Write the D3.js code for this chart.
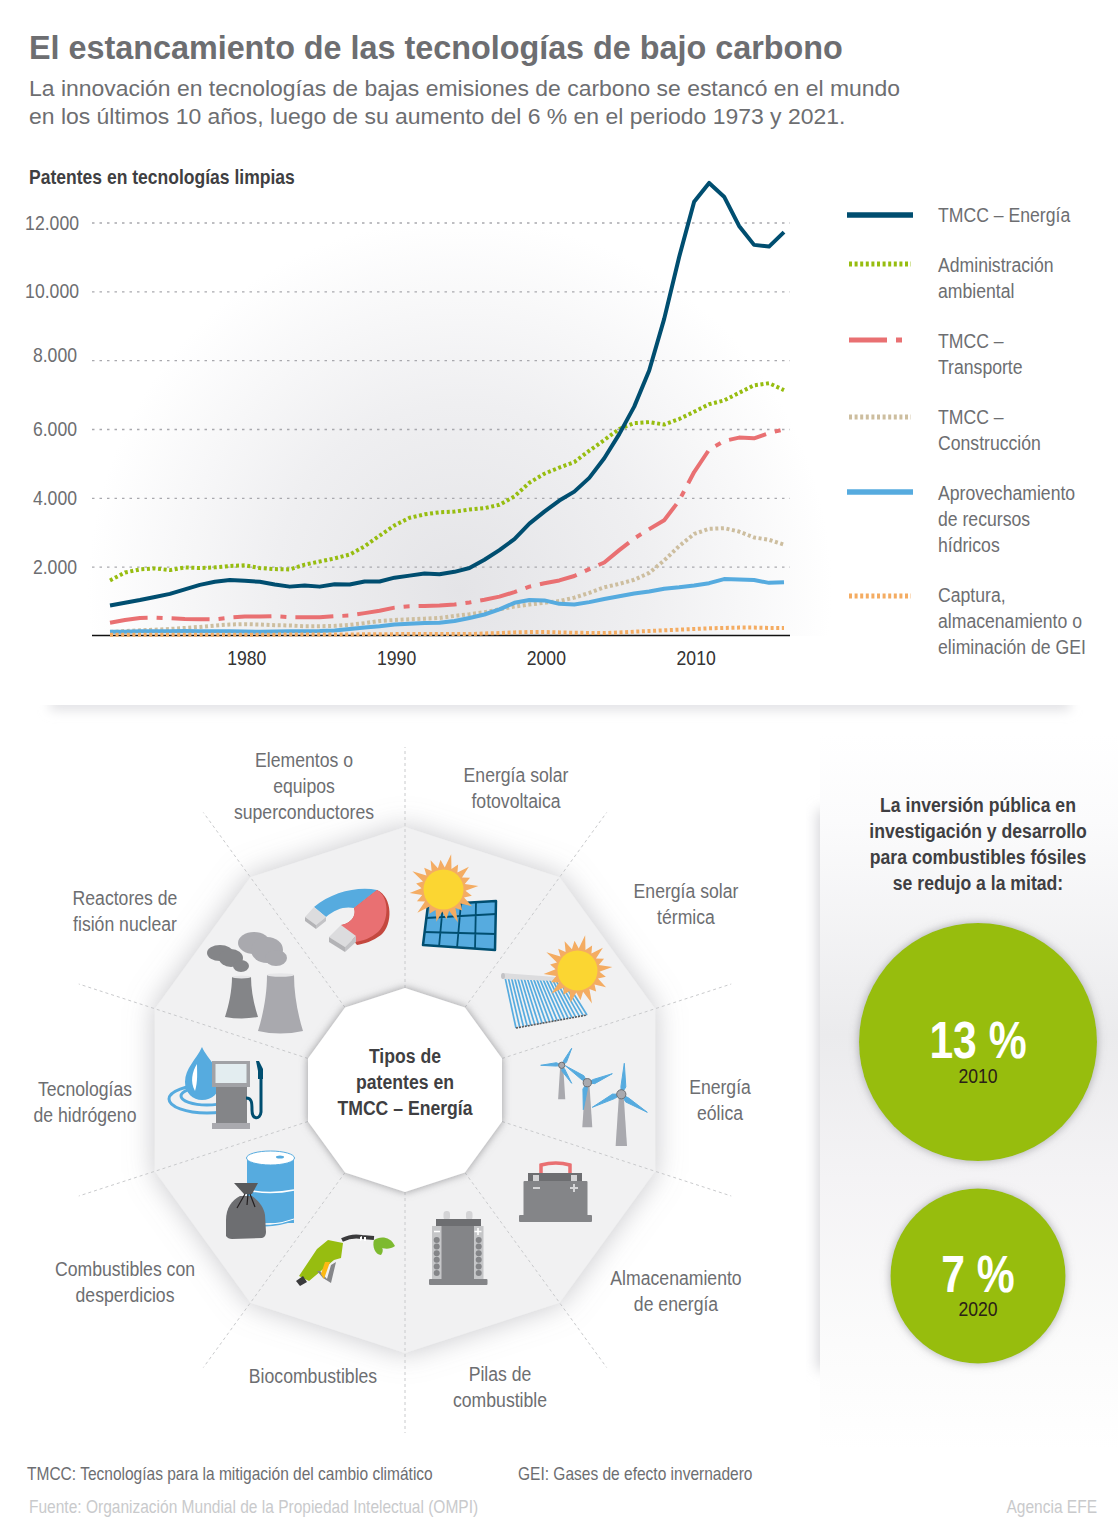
<!DOCTYPE html>
<html lang="es"><head><meta charset="utf-8">
<script src="https://cdn.jsdelivr.net/npm/d3@7/dist/d3.min.js"></script>
<style>html,body{margin:0;padding:0;background:#fff}svg{display:block}text{font-family:"Liberation Sans",Arial,sans-serif}</style>
</head><body><svg id="c" width="1118" height="1531" viewBox="0 0 1118 1531"></svg>
<script>
const years = d3.range(1971, 2017);
const energia = [870,950,1030,1120,1210,1340,1470,1560,1610,1590,1560,1480,1420,1450,1420,1490,1480,1570,1570,1680,1740,1800,1780,1850,1960,2200,2480,2800,3250,3600,3920,4180,4580,5150,5850,6650,7700,9200,11000,12600,13150,12750,11900,11350,11300,11720];
const ambiental = [1600,1830,1920,1950,1900,1980,1960,1980,2020,2040,1960,1930,1920,2060,2150,2240,2350,2590,2900,3200,3420,3520,3580,3600,3660,3700,3800,4040,4440,4700,4880,5040,5370,5680,6000,6170,6200,6130,6290,6500,6720,6830,7050,7270,7330,7130];
const transporte = [370,450,510,520,500,480,470,470,520,550,550,560,530,530,530,560,580,650,720,810,850,860,870,900,960,1040,1130,1260,1420,1520,1600,1730,1930,2120,2480,2820,3090,3350,3920,4750,5400,5650,5750,5730,5880,5990];
const construccion = [100,130,150,170,190,220,250,290,320,330,320,300,290,270,270,280,310,360,420,450,470,490,510,570,620,680,760,840,900,950,1000,1100,1240,1400,1500,1620,1820,2180,2600,2950,3100,3120,3020,2850,2780,2640];
const hidricos = [110,110,120,120,125,130,125,125,120,115,110,115,120,125,130,145,190,230,270,320,340,360,370,420,510,610,760,950,1030,1020,920,900,970,1060,1140,1220,1280,1360,1400,1450,1520,1640,1630,1610,1530,1550];
const captura = [20,20,20,20,20,20,25,25,25,25,25,25,30,30,30,30,30,35,35,40,40,40,40,40,40,60,70,90,100,100,90,80,75,70,90,110,130,150,170,190,210,220,230,230,220,220];
const yTicks = [2000,4000,6000,8000,10000,12000];
const xTicks = [1980,1990,2000,2010];
const tiposTexto = ["Tipos de","patentes en","TMCC – Energía"];
const inversion = [13,7];
const inversionAnios = ["2010","2020"];
const svg = d3.select("#c");
const defs = svg.append("defs");
const G="#6d6e71", D="#3f3f42", C={dark:"#004e70",green:"#97bd10",red:"#e97072",tan:"#cdbe9f",blue:"#56abdf",orange:"#f4ac62",g1:"#848588",g2:"#a9a9ae",g3:"#c9cacc"};
function blur(id,s){defs.append("filter").attr("id",id).attr("x","-30%").attr("y","-100%").attr("width","160%").attr("height","300%").append("feGaussianBlur").attr("stdDeviation",s);}
function shadow(id,s,c,o){const f=defs.append("filter").attr("id",id).attr("x","-30%").attr("y","-30%").attr("width","160%").attr("height","160%");f.append("feDropShadow").attr("dx",0).attr("dy",0).attr("stdDeviation",s).attr("flood-color",c).attr("flood-opacity",o);}
blur("b4",6);blur("b6",7);shadow("sOuter",14,"#8f8f96",.5);shadow("sInner",4,"#77777c",.75);shadow("sCirc",5,"#77777c",.6);
const rg=defs.append("radialGradient").attr("id","bgChart").attr("gradientUnits","userSpaceOnUse").attr("cx",460).attr("cy",590).attr("r",372);
rg.append("stop").attr("offset",0).attr("stop-color","#e4e4e7");rg.append("stop").attr("offset",.5).attr("stop-color","#efeff1");rg.append("stop").attr("offset",1).attr("stop-color","#fff");
const pg=defs.append("linearGradient").attr("id","bgPanel").attr("x1",0).attr("x2",0).attr("y1",0).attr("y2",1);
[[0,"#fff"],[.12,"#fbfbfc"],[.42,"#ebebed"],[.62,"#f4f3f5"],[.85,"#fbfbfb"],[1,"#fff"]].forEach(d=>pg.append("stop").attr("offset",d[0]).attr("stop-color",d[1]));
const cp1=defs.append("clipPath").attr("id","cSep");cp1.append("rect").attr("x",0).attr("y",705).attr("width",1118).attr("height",30);
const cp2=defs.append("clipPath").attr("id","cPan");cp2.append("rect").attr("x",780).attr("y",720).attr("width",41).attr("height",760);

function T(p,x,y,s,o){o=o||{};return p.append("text").attr("transform",`translate(${x},${y}) scale(${o.sx||.84},1)`).attr("text-anchor",o.a||"start").attr("font-size",o.size||21).attr("font-weight",o.w||400).attr("fill",o.c||G).text(s);}

// encabezado
T(svg,29,59,"El estancamiento de las tecnologías de bajo carbono",{size:33,w:700,sx:.98});
T(svg,29,96,"La innovación en tecnologías de bajas emisiones de carbono se estancó en el mundo",{size:22.5,sx:1.02});
T(svg,29,124,"en los últimos 10 años, luego de su aumento del 6 % en el periodo 1973 y 2021.",{size:22.5,sx:1.02});

// gráfico de líneas
svg.append("rect").attr("x",50).attr("y",170).attr("width",800).attr("height",466).attr("fill","url(#bgChart)");
T(svg,29,184,"Patentes en tecnologías limpias",{size:21,w:700,c:D,sx:.835});
const x=d3.scaleLinear().domain([1971,2016]).range([110,784]);
const y=d3.scaleLinear().domain([0,12000]).range([635.5,222.5]);
const loc=d3.formatLocale({decimal:",",thousands:".",grouping:[3],currency:["",""]});
const yAxis=d3.axisRight(y).tickValues(yTicks).tickSize(698).tickFormat(loc.format(",d"));
const gy=svg.append("g").attr("transform","translate(92,0)").call(yAxis);
gy.select(".domain").remove();
gy.selectAll("line").attr("stroke","#a9a9ae").attr("stroke-width",1.4).attr("stroke-dasharray","2.5 5");
gy.selectAll("text").attr("x",0).attr("dy",0).attr("text-anchor","end").attr("font-size",21).attr("fill",G)
  .attr("transform",d=>`translate(${d>=10000?-13:-15},${d===8000?1:6.5}) scale(.84,1)`);
const xAxis=d3.axisBottom(x).tickValues(xTicks).tickSize(0).tickPadding(12).tickFormat(d3.format("d"));
const gx=svg.append("g").attr("transform","translate(0,635.5)").call(xAxis);
gx.select(".domain").attr("stroke","#111").attr("stroke-width",1.4).attr("d","M92,0H790");
gx.selectAll("text").attr("font-size",21).attr("fill","#333").attr("dy",0).attr("y",0).attr("transform","translate(1.5,29) scale(.84,1)");

const series=[
 {k:"TMCC – Energía",v:energia,c:C.dark,dash:null,lines:["TMCC – Energía"],ly:215,ty:215,sw:5.5},
 {k:"Administración ambiental",v:ambiental,c:C.green,dash:"3 2.6",lines:["Administración","ambiental"],ly:264,ty:265,sw:5},
 {k:"TMCC – Transporte",v:transporte,c:C.red,dash:"38 9 6 9",lines:["TMCC –","Transporte"],ly:340,ty:341,sw:5},
 {k:"TMCC – Construcción",v:construccion,c:C.tan,dash:"3 2.6",lines:["TMCC –","Construcción"],ly:417,ty:417,sw:5},
 {k:"Aprovechamiento de recursos hídricos",v:hidricos,c:C.blue,dash:null,lines:["Aprovechamiento","de recursos","hídricos"],ly:492,ty:493,sw:5.5},
 {k:"Captura, almacenamiento o eliminación de GEI",v:captura,c:C.orange,dash:"3 2.6",lines:["Captura,","almacenamiento o","eliminación de GEI"],ly:596,ty:595,sw:5}
];
const line=d3.line().x((d,i)=>x(years[i])).y(d=>y(d));
const order=[3,1,2,4,5,0];
svg.append("g").selectAll("path").data(order.map(i=>series[i])).join("path")
  .attr("d",d=>line(d.v)).attr("fill","none").attr("stroke",d=>d.c).attr("stroke-width",4).attr("stroke-dasharray",d=>d.dash).attr("stroke-linejoin","round");
// leyenda
const lg=svg.append("g");
series.forEach(s=>{
  const solid=!s.dash;
  lg.append("line").attr("x1",solid?847:849).attr("x2",solid?913:911).attr("y1",s.ly).attr("y2",s.ly).attr("stroke",s.c).attr("stroke-width",s.sw).attr("stroke-dasharray",s.dash);
  s.lines.forEach((l,i)=>T(lg,938,s.ty+7+i*26,l));
});
// separador
svg.append("g").attr("clip-path","url(#cSep)").append("rect").attr("x",50).attr("y",696).attr("width",1020).attr("height",14).attr("fill","#e0e0e3").attr("filter","url(#b4)");

// panel derecho
svg.append("g").attr("clip-path","url(#cPan)").append("rect").attr("x",818).attr("y",810).attr("width",40).attr("height",560).attr("fill","#d2d2d7").attr("filter","url(#b6)");
svg.append("rect").attr("x",820).attr("y",735).attr("width",298).attr("height",715).attr("fill","url(#bgPanel)");

// decágono
const cx=405,cy=1090,R0=263,R1=102,R2=343;
const poly=r=>d3.range(10).map(i=>{const a=i*Math.PI/5;return [cx+r*Math.sin(a),cy-r*Math.cos(a)];});
const pl=d3.line().curve(d3.curveLinearClosed);
svg.append("path").attr("d",pl(poly(R0))).attr("fill","#f1f1f2").attr("filter","url(#sOuter)");
svg.append("g").selectAll("line").data(d3.range(10)).join("line")
 .attr("x1",i=>cx+R1*Math.sin(i*Math.PI/5)).attr("y1",i=>cy-R1*Math.cos(i*Math.PI/5))
 .attr("x2",i=>cx+R2*Math.sin(i*Math.PI/5)).attr("y2",i=>cy-R2*Math.cos(i*Math.PI/5))
 .attr("stroke",C.g3).attr("stroke-width",1).attr("stroke-dasharray","3 3");
svg.append("path").attr("d",pl(poly(R1))).attr("fill","#fff").attr("filter","url(#sInner)");
tiposTexto.forEach((s,i)=>T(svg,405,1063+i*26,s,{a:"middle",w:700,c:D}));
const wheel=[
 [304,767,["Elementos o","equipos","superconductores"]],
 [516,782,["Energía solar","fotovoltaica"]],
 [686,898,["Energía solar","térmica"]],
 [720,1094,["Energía","eólica"]],
 [676,1285,["Almacenamiento","de energía"]],
 [500,1381,["Pilas de","combustible"]],
 [313,1383,["Biocombustibles"]],
 [125,1276,["Combustibles con","desperdicios"]],
 [85,1096,["Tecnologías","de hidrógeno"]],
 [125,905,["Reactores de","fisión nuclear"]]];
wheel.forEach(w=>w[2].forEach((s,i)=>T(svg,w[0],w[1]+i*26,s,{a:"middle"})));

// iconos
const ic=svg.append("g");
const P=(d,f,o)=>{const e=ic.append("path").attr("d",d).attr("fill",f||"none");if(o)Object.entries(o).forEach(([k,v])=>e.attr(k,v));return e;};
const E=(cx,cy,rx,ry,f,o)=>{const e=ic.append("ellipse").attr("cx",cx).attr("cy",cy).attr("rx",rx).attr("ry",ry).attr("fill",f);if(o)Object.entries(o).forEach(([k,v])=>e.attr(k,v));return e;};
// imán
P("M314,907C332,892 358,886 377,890L354,908C345,906 335,909 326,917Z",C.blue);
P("M377,890C393,897 393,925 381,935C373,941 364,944 357,945L341,925C350,924 357,916 354,908Z","#c4483f");
P("M377,890C390,897 389,922 378,932C371,938 363,941 355,942L341,925C350,924 357,916 354,908Z",C.red);
P("M305,917L314,907L326,917L316,925Z","#dcdcde");P("M305,917L316,925L316,929L305,921Z","#b3b3b6");P("M326,917L316,925L316,929L326,921Z","#c3c3c6");
P("M329,937L341,925L356,936L345,947Z","#dcdcde");P("M329,937L345,947L345,952L329,942Z","#b3b3b6");P("M356,936L345,947L345,952L356,942Z","#c3c3c6");
// central
[[220,953,13,8],[231,958,12,9],[241,966,8,6]].forEach(d=>E(d[0],d[1],d[2],d[3],C.g1));
[[254,943,16,11],[267,950,16,13],[276,958,11,8]].forEach(d=>E(d[0],d[1],d[2],d[3],C.g2));
P("M232,977L251,977C251,990 254,1005 258,1017Q242,1020 225,1017C229,1005 232,990 232,977Z",C.g1);E(241.5,977,9.5,1.5,"#e6e6e8");
P("M267,975L294,975C294,995 298,1015 303,1031Q280,1036 258,1031C263,1015 267,995 267,975Z",C.g2);E(280.5,975,13.5,1.8,"#e6e6e8");
// hidrógeno
E(207,1099,38,14,"none",{stroke:C.blue,"stroke-width":3});E(207,1096,26,9,"none",{stroke:C.blue,"stroke-width":3});
P("M202,1047C196,1060 185,1068 185,1082C185,1093 193,1100 202,1100C212,1100 220,1093 220,1082C220,1068 208,1060 202,1047Z",C.blue);
P("M197,1064C192,1072 190,1082 195,1091C198,1082 197,1072 197,1064Z","#fff");
ic.append("rect").attr("x",212).attr("y",1061).attr("width",38).attr("height",26).attr("fill","#a1a2a6");
ic.append("rect").attr("x",215.5).attr("y",1064).attr("width",31).attr("height",19).attr("fill","#e3edf0");
ic.append("rect").attr("x",216).attr("y",1087).attr("width",31).attr("height",36).attr("fill",C.g1);
ic.append("rect").attr("x",212).attr("y",1123).attr("width",38).attr("height",6).attr("fill",C.g2);
P("M246,1098C252,1098 252,1103 252,1110C252,1120 260,1120 261,1112L261,1076",null,{stroke:C.dark,"stroke-width":3,fill:"none"});
P("M256,1061L259,1061L263,1069L263,1079L258,1079L258,1071Z",C.dark);
// barril
ic.append("rect").attr("x",247).attr("y",1158).attr("width",47).attr("height",65).attr("fill",C.blue);
E(270.5,1158,24,7,"#fff",{stroke:C.blue,"stroke-width":1});E(280,1157,4,1.5,C.blue);
P("M247,1190Q270,1195 294,1190",null,{stroke:"#fff","stroke-width":1.6});
P("M247,1221Q270,1227 294,1221Q270,1230 247,1224Z",C.blue);
P("M246,1222Q270,1228 294,1219",null,{stroke:"#fff","stroke-width":1});
P("M234,1183L258,1183L252,1194L244,1194Z","#58595b");
P("M240,1196C232,1200 226,1208 226,1220L226,1236Q228,1239 232,1239L262,1238Q266,1237 266,1232L265,1215C264,1207 258,1200 252,1196Z","#6d6e71");
P("M245,1194L237,1208M248,1194L247,1205M250,1194L255,1207",null,{stroke:"#231f20","stroke-width":1.2});
// boquilla
P("M342,1240Q352,1235 362,1237L374,1238",null,{stroke:"#3a3a3c","stroke-width":4});
P("M360,1237l2,-1v4l-2,1zM364,1237l2,0v4l-2,0z","#fff");
P("M317,1249L328,1240L343,1243L341,1258L334,1260L309,1281L299,1276Z",C.green);
P("M317,1271L323,1278L331,1283L336,1262L331,1265L327,1279L320,1271Z","#858689");
P("M321,1274L325,1262L330,1262L324,1279Z","#fdb913");
P("M296,1281L303,1276L307,1282L300,1286Z","#3a3a3c");
P("M374,1240C380,1236 390,1236 395,1246C388,1251 378,1249 374,1240Z","#7dba2f");
P("M374,1240C372,1246 375,1255 381,1255C385,1250 382,1244 374,1240Z","#7dba2f");
// pila
ic.append("rect").attr("x",443.5).attr("y",1211).attr("width",6.5).attr("height",9).attr("rx",3).attr("fill","#d4d4d6");
ic.append("rect").attr("x",466).attr("y",1211).attr("width",6.5).attr("height",9).attr("rx",3).attr("fill","#d4d4d6");
ic.append("rect").attr("x",436).attr("y",1219).attr("width",45).attr("height",8).attr("fill","#6d6e71");
ic.append("rect").attr("x",432).attr("y",1226).attr("width",51).attr("height",54).attr("fill",C.g1);
ic.append("rect").attr("x",429).attr("y",1279).attr("width",58.5).attr("height",6).attr("rx",1).attr("fill",C.g1);
[432,474].forEach(xx=>{ic.append("rect").attr("x",xx).attr("y",1226).attr("width",9.5).attr("height",53).attr("fill","#c5c6c8");
 d3.range(6).forEach(i=>ic.append("circle").attr("cx",xx+4.7).attr("cy",1240+i*6.6).attr("r",3).attr("fill",C.g1));});
P("M434,1231.5h6M474.5,1231.5h7M478,1228v7",null,{stroke:"#fff","stroke-width":1.6});
// batería
P("M541,1173L541,1165Q556,1161 570,1165L570,1173",null,{stroke:C.red,"stroke-width":3.5});
ic.append("rect").attr("x",528).attr("y",1173).attr("width",54).attr("height",9).attr("fill","#6d6e71");
ic.append("rect").attr("x",523.5).attr("y",1181).attr("width",64).attr("height",35).attr("rx",1).attr("fill",C.g1);
ic.append("rect").attr("x",519).attr("y",1215).attr("width",73).attr("height",7).attr("rx",1).attr("fill",C.g1);
ic.append("rect").attr("x",533).attr("y",1175).attr("width",6).attr("height",6).attr("fill","#d4d4d6");
ic.append("rect").attr("x",571).attr("y",1175).attr("width",6).attr("height",6).attr("fill","#d4d4d6");
P("M533,1188h7M570,1188h8M574,1184v8",null,{stroke:"#d4d4d6","stroke-width":2});
// soles
const rays=[35,29,33,28,36,30,33,28,35,29,34,28,36,29,32,30,36,29,34,29];
const sun=(sx,sy,r)=>{const pts=[];rays.forEach((o,i)=>{const a=i*Math.PI/10-.1,b=(i+.5)*Math.PI/10-.1;pts.push([sx+o*Math.cos(a),sy+o*Math.sin(a)]);pts.push([sx+(r+2)*Math.cos(b),sy+(r+2)*Math.sin(b)]);});
 P(pl(pts),C.orange);ic.append("circle").attr("cx",sx).attr("cy",sy).attr("r",r).attr("fill","#fbd632");};
// panel fotovoltaico
P("M428,905L496,901L495,950L423,945Z",C.blue,{stroke:C.dark,"stroke-width":2.5,"stroke-linejoin":"round"});
P("M426,918L496,914M424.5,932L495.5,934M443,904L439,947M461,903L457,948M476,902L475,949",null,{stroke:C.dark,"stroke-width":1.8});
sun(443.5,889.5,20);
// colector térmico
d3.range(20).forEach(i=>{const f=i/19;ic.append("line").attr("x1",505+f*60).attr("y1",977+f*3).attr("x2",516+f*71).attr("y2",1028-f*13).attr("stroke",C.blue).attr("stroke-width",1.7);});
P("M516,1028L587,1015",null,{stroke:"#58595b","stroke-width":1.6,"stroke-dasharray":"2 1"});
P("M503,973L556,977L556,981L503,979Z","#dcdcde");E(503,976,2,3,"#c3c3c6");
sun(577.5,970.5,20);
// turbinas
const turbines=[[561.7,1065.3,1099.3,3.6,2.6,[[10,-17],[-21,0],[10,18]]],[587.3,1082.7,1127.3,5,3.4,[[25,-9],[-4,27],[-22,-17]]],[621.3,1094.3,1146,5.7,3.8,[[3,-31],[-29,13],[26,18]]]];
turbines.forEach(t=>{const [hx,hy,by,w,bw,tips]=t;
 P(`M${hx-w*.4},${hy}L${hx+w*.4},${hy}L${hx+w},${by}L${hx-w},${by}Z`,C.g2);
 tips.forEach(p=>{const L=Math.hypot(p[0],p[1]),nx=-p[1]/L*bw,ny=p[0]/L*bw,mx=hx+p[0]*.25,my=hy+p[1]*.25;
  P(`M${hx},${hy}L${mx+nx},${my+ny}L${hx+p[0]},${hy+p[1]}L${mx-nx*.3},${my-ny*.3}Z`,C.blue,{stroke:C.blue,"stroke-width":1,"stroke-linejoin":"round"});});
 ic.append("circle").attr("cx",hx).attr("cy",hy).attr("r",w*.72+.5).attr("fill",C.g2).attr("stroke","#6d6e71").attr("stroke-width",1);});

// texto panel
["La inversión pública en","investigación y desarrollo","para combustibles fósiles","se redujo a la mitad:"].forEach((s,i)=>T(svg,978,812+i*26,s,{a:"middle",w:700,c:D}));
const r=d3.scaleSqrt().domain([0,13]).range([0,119]);
const circ=[{cy:1042,ty:1058,yy:1083,fs:52},{cy:1276,ty:1292,yy:1316,fs:52}];
inversion.forEach((v,i)=>{const c=circ[i];
 svg.append("circle").attr("cx",978).attr("cy",c.cy).attr("r",i?87.5:r(v)).attr("fill",C.green).attr("filter","url(#sCirc)");
 T(svg,978,c.ty,v+" %",{a:"middle",size:c.fs,w:700,c:"#fff",sx:.82});
 T(svg,978,c.yy,inversionAnios[i],{a:"middle",c:"#2a2116"});
});
// pie
T(svg,27,1480,"TMCC: Tecnologías para la mitigación del cambio climático",{size:18,sx:.862});
T(svg,518,1480,"GEI: Gases de efecto invernadero",{size:18,sx:.862});
T(svg,29,1513,"Fuente: Organización Mundial de la Propiedad Intelectual (OMPI)",{size:18,c:"#c9cacc",sx:.862});
T(svg,1097,1513,"Agencia EFE",{size:18,c:"#c9cacc",a:"end",sx:.862});
</script></body></html>
